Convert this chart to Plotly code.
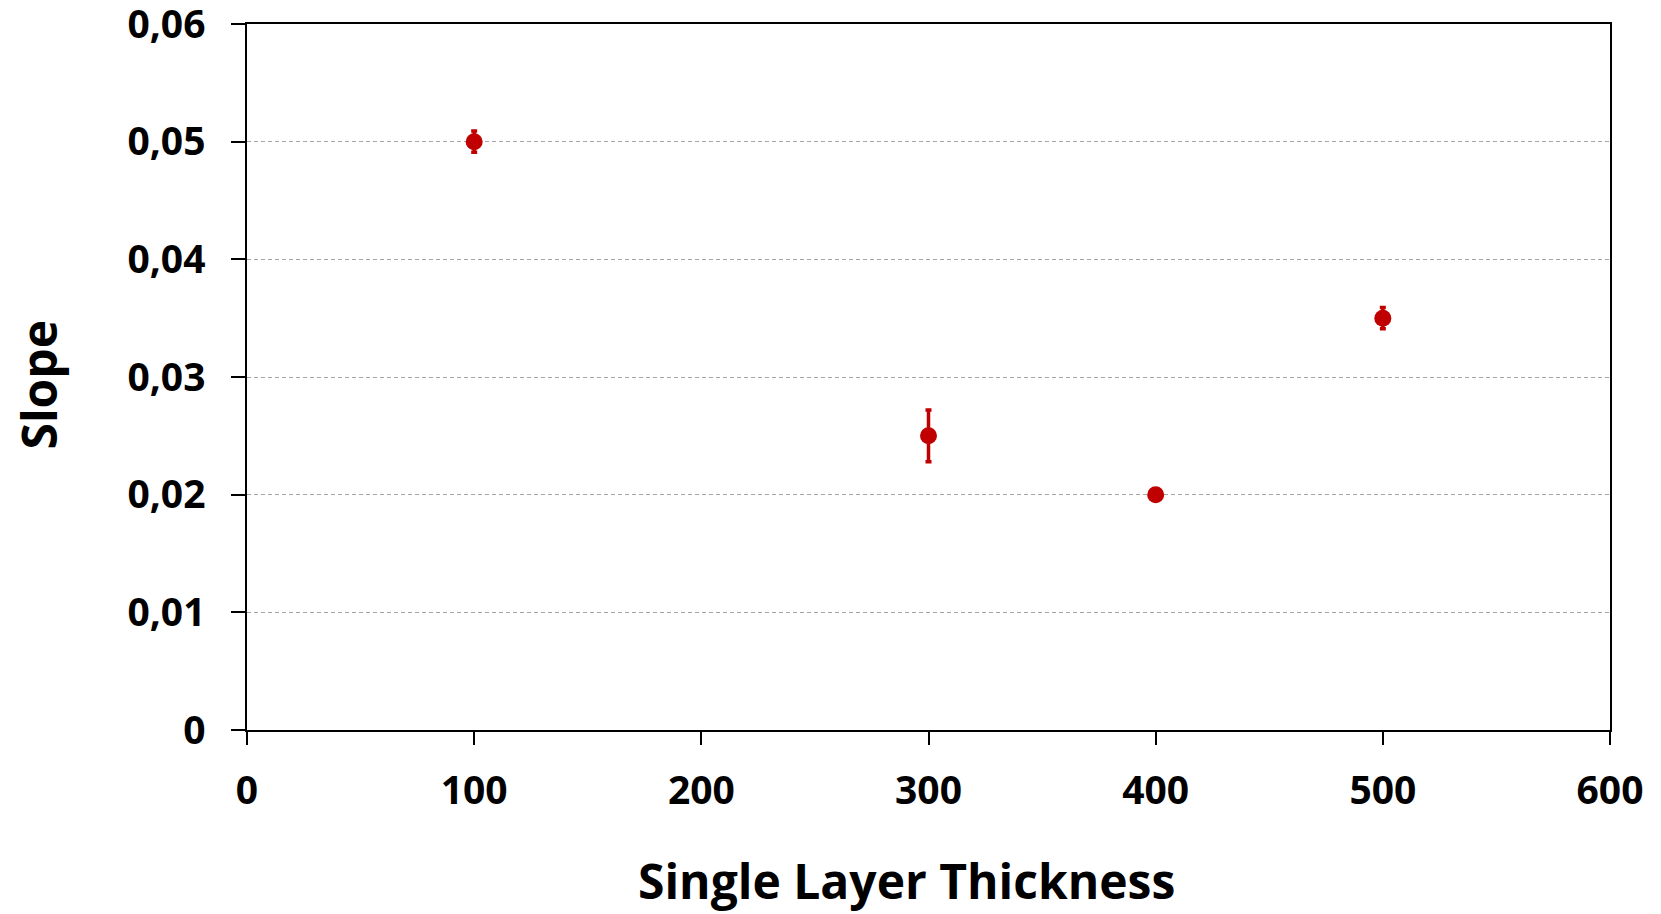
import plotly.graph_objects as go

thickness = [100, 300, 400, 500]
slope = [0.050, 0.025, 0.020, 0.035]
slope_err = [0.0009, 0.0022, 0.0003, 0.0009]

x_ticks = [0, 100, 200, 300, 400, 500, 600]
y_ticks = [0, 0.01, 0.02, 0.03, 0.04, 0.05, 0.06]
y_tick_text = ["0", "0,01", "0,02", "0,03", "0,04", "0,05", "0,06"]
x_title = "Single Layer Thickness"
y_title = "Slope"

RED = "#C00000"
FONT = "Open Sans"

fig = go.Figure()
fig.add_trace(go.Scatter(
    x=thickness, y=slope, mode="markers",
    marker=dict(size=17, color=RED),
    error_y=dict(type="data", array=slope_err, visible=True,
                 color=RED, thickness=3.5, width=3),
    showlegend=False,
))

fig.update_layout(
    width=1653, height=906,
    margin=dict(l=239, r=51, t=16, b=184),
    paper_bgcolor="white", plot_bgcolor="white",
    font=dict(family=FONT, color="black"),
    xaxis=dict(
        range=[0, 600], tickvals=x_ticks, ticktext=[str(v) for v in x_ticks],
        showgrid=False, zeroline=False, automargin=False,
        showline=True, linecolor="black", linewidth=1.5, mirror=True,
        ticks="outside", ticklen=13, tickcolor="black", tickwidth=1.5,
        tickfont=dict(size=39, family=FONT, weight="bold"),
        ticklabelstandoff=12, ticklabeloverflow="allow",
    ),
    yaxis=dict(
        range=[0, 0.06], tickvals=y_ticks, ticktext=y_tick_text,
        showgrid=True, gridcolor="#A6A6A6", gridwidth=1, griddash="4px,3px",
        zeroline=False, automargin=False,
        showline=True, linecolor="black", linewidth=1.5, mirror=True,
        ticks="outside", ticklen=14, tickcolor="black", tickwidth=1.5,
        tickfont=dict(size=39, family=FONT, weight="bold"),
        ticklabelstandoff=18, ticklabeloverflow="allow",
    ),
    annotations=[
        dict(text=x_title, xref="paper", yref="paper", x=0.4842, y=-0.2125,
             xanchor="center", yanchor="middle", showarrow=False,
             font=dict(size=48, family=FONT, weight="bold", color="black")),
        dict(text=y_title, xref="paper", yref="paper", x=-0.1530, y=0.490,
             xanchor="center", yanchor="middle", showarrow=False, textangle=-90,
             font=dict(size=48, family=FONT, weight="bold", color="black")),
    ],
)

fig.write_html("out.html")
